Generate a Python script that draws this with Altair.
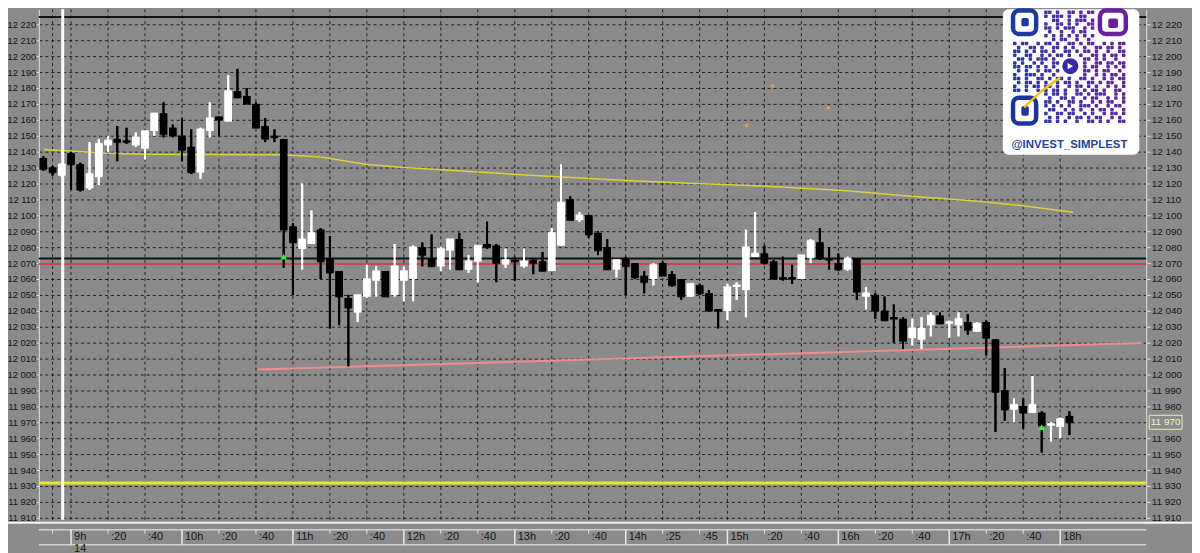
import altair as alt
import pandas as pd

# ---------------- data (5-minute candles, index 0 = 08:45) ----------------
opens = [12136, 12130, 12125, 12139, 12132, 12117, 12124, 12144, 12148, 12147,
         12144, 12142, 12153, 12164, 12155, 12150, 12143, 12127, 12153, 12162,
         12159, 12178, 12175, 12170, 12156, 12150, 12148, 12093, 12079, 12082,
         12091, 12073, 12065, 12048, 12039, 12049, 12059, 12065, 12050, 12059,
         12060, 12080, 12073, 12068, 12078, 12085, 12066, 12071, 12082, 12081,
         12069, 12072, 12068, 12072, 12071, 12065, 12081, 12110, 12097, 12100,
         12089, 12080, 12066, 12073, 12070, 12062, 12060, 12070, 12063, 12060,
         12049, 12056, 12051, 12041, 12040, 12055, 12053, 12074, 12076, 12071,
         12061, 12061, 12060, 12073, 12083, 12073, 12070, 12066, 12073, 12049,
         12050, 12040, 12036, 12035, 12023, 12022, 12031, 12037, 12032, 12031,
         12033, 12027, 12033, 12022, 11990, 11978, 11980, 11976, 11976, 11968,
         11967, 11974]
highs = [12137, 12131, 12133, 12140, 12133, 12146, 12148, 12150, 12156, 12155,
         12152, 12153, 12164, 12171, 12157, 12161, 12154, 12155, 12171, 12162,
         12188, 12192, 12180, 12171, 12161, 12154, 12148, 12095, 12120, 12103,
         12092, 12087, 12065, 12050, 12050, 12069, 12068, 12065, 12082, 12068,
         12081, 12083, 12088, 12080, 12085, 12089, 12075, 12081, 12096, 12082,
         12079, 12074, 12079, 12073, 12077, 12092, 12132, 12112, 12102, 12100,
         12090, 12085, 12072, 12074, 12070, 12065, 12070, 12071, 12065, 12060,
         12057, 12057, 12053, 12041, 12057, 12058, 12091, 12102, 12081, 12072,
         12074, 12069, 12075, 12085, 12092, 12080, 12076, 12074, 12073, 12055,
         12051, 12049, 12044, 12036, 12035, 12036, 12039, 12039, 12034, 12039,
         12038, 12033, 12034, 12022, 12004, 11985, 11985, 11999, 11977, 11970,
         11973, 11977]
lows = [12128, 12125, 12124, 12116, 12115, 12116, 12119, 12140, 12134, 12145,
        12143, 12135, 12150, 12149, 12149, 12134, 12126, 12123, 12149, 12150,
        12159, 12174, 12170, 12155, 12146, 12146, 12067, 12050, 12066, 12082,
        12060, 12029, 12031, 12005, 12033, 12048, 12049, 12049, 12049, 12046,
        12046, 12068, 12068, 12065, 12066, 12066, 12064, 12058, 12079, 12058,
        12067, 12059, 12067, 12063, 12065, 12065, 12081, 12097, 12096, 12086,
        12075, 12066, 12061, 12050, 12060, 12051, 12056, 12062, 12055, 12047,
        12049, 12050, 12040, 12029, 12034, 12047, 12036, 12074, 12069, 12060,
        12059, 12057, 12060, 12070, 12072, 12066, 12065, 12065, 12047, 12041,
        12035, 12034, 12020, 12016, 12018, 12016, 12024, 12032, 12023, 12024,
        12025, 12027, 12012, 11964, 11971, 11970, 11966, 11976, 11951, 11958,
        11960, 11962]
closes = [12129, 12127, 12132, 12132, 12116, 12126, 12145, 12147, 12146, 12146,
          12149, 12153, 12164, 12151, 12150, 12141, 12127, 12154, 12161, 12160,
          12178, 12174, 12170, 12155, 12148, 12149, 12091, 12083, 12085, 12089,
          12071, 12064, 12049, 12042, 12050, 12060, 12065, 12049, 12068, 12065,
          12080, 12075, 12068, 12079, 12085, 12066, 12071, 12081, 12080, 12070,
          12072, 12071, 12071, 12070, 12065, 12089, 12108, 12097, 12100, 12088,
          12078, 12066, 12072, 12068, 12061, 12058, 12069, 12062, 12056, 12049,
          12057, 12051, 12040, 12040, 12055, 12056, 12080, 12076, 12070, 12060,
          12060, 12060, 12075, 12084, 12073, 12072, 12066, 12073, 12052, 12051,
          12040, 12034, 12035, 12021, 12029, 12029, 12037, 12032, 12033, 12035,
          12028, 12032, 12023, 11989, 11978, 11981, 11976, 11981, 11968, 11969,
          11972, 11970]

# moving average (yellow thin line)
ma_idx = [0.05, 7, 11, 18, 26, 30, 35, 39, 47.5, 54.6, 63.5, 70.6, 77.8, 86.6, 93.8, 100.8, 106, 111.4]
ma_val = [12141.4, 12139, 12138.3, 12138.2, 12138, 12136.7, 12132, 12130, 12127, 12124.5,
          12121.7, 12120, 12118.5, 12115.6, 12112, 12109, 12106, 12102]

# rising support line (pink)
tr_idx = [23.2, 118.77]
tr_val = [12003.1, 12019.8]

# horizontal levels
lvl_black = [12224.6, 12072.9]
lvl_red = [12069.4]
lvl_yellow = [11931.9]
day_sep = [2.1]

# markers
dot_idx = [76.1, 78.9, 84.9]
dot_val = [12156.2, 12181.2, 12167.5]
grn_idx = [26, 108]
grn_val = [12074, 11967]

# time axis
tick_idx = [1, 3, 7, 11, 15, 19, 23, 27, 31, 35, 39, 43, 47, 51, 55, 59, 63, 67, 71, 74,
            78, 82, 86, 90, 94, 98, 102, 106, 110]
tick_lab = ["", "9h", ":20", ":40", "10h", ":20", ":40", "11h", ":20", ":40", "12h", ":20",
            ":40", "13h", ":20", ":40", "14h", ":25", ":45", "15h", ":20", ":40", "16h", ":20",
            ":40", "17h", ":20", ":40", "18h"]
hour_idx = [3, 15, 27, 39, 51, 63, 74, 86, 98, 110]
date_idx = [3]
date_lab = ["14"]
y_ticks = list(range(11910, 12231, 10))
last_price = [11970]
y_ticks_right = [v for v in y_ticks if v not in last_price]

# QR badge (decor) in data coordinates
qr_box = dict(x=[103.8], x2=[118.56], y=[12229.375], y2=[12138.1])
finder_out = dict(x=[104.9, 114.3, 104.9], x2=[107.4, 117.1, 107.4],
                  y=[12228.6, 12228.6, 12173.9], y2=[12213.9, 12213.9, 12157.7],
                  c=["#1f3a9e", "#6a1f9e", "#1c3596"])
finder_in = dict(x=[105.8, 115.2, 105.8], x2=[106.6, 116.25, 106.6],
                 y=[12223.9, 12223.6, 12168.7], y2=[12218.7, 12217.7, 12162.5],
                 c=["#1f3a9e", "#6a1f9e", "#1c3596"])
qr_rows = [
    "........##.#..##.#.##........",
    "........#.###.#..##..........",
    "..........##..#.###.#........",
    "........#..##.#.#..##........",
    "........##.#.###..#.#........",
    ".........#..#..#.##..........",
    "........#.#.#.#.#.#.#........",
    "..........#.##..#..#.........",
    "#.##..#.##.#..##.#.##..#.#.##",
    ".#..##.#..##.#.#..#..##.##.#.",
    "##.#.#.##.#..##.#.##.#..#..##",
    "#..##..#.#.##.#..#..##.#.##.#",
    ".##.#.###.#.......##.#.#..#..",
    "#.#..#.#..##......#..##.##.##",
    "##.##.#.#.#.......#.##..#.#.#",
    ".#.#..#.##.#......##.#.##..#.",
    "#..###.#..#.......#..#.#.##.#",
    "##.#..##.#.##.#..##.#..#.#.##",
    ".#.##.#.#..#.##.#..##.#.##..#",
    "#..#.##.##.#..#.##.#.#..#.#.#",
    "##.#..#.#.##.#..#.#.##.#..##.",
    "........#.##.#..##.#.###..#.#",
    ".........#..##.#..#.##..#.#.#",
    "........##.#..##.#..#.#.##..#",
    "........#.#.#.#..###.#..#.##.",
    ".........##..#.#.#..#.##.#..#",
    "........#..##.##..#.#..#.##.#",
    ".........#.#..#.##.#.##..#.#.",
    "........##.#.#..#..##.#.#..##",
]

# ---------------- build ----------------
PADL = 31
W, H = 1113, 513
xs = alt.Scale(domain=[0.053, 118.77], nice=False, zero=False)
ys = alt.Scale(domain=[11908.75, 12229.375], nice=False, zero=False)
FONT = "Liberation Sans, Arial, sans-serif"
BG = "#8b8b8b"
GRID = "#141414"

df = pd.DataFrame(dict(i=list(range(len(opens))), o=opens, h=highs, l=lows, c=closes))
df["d"] = ["up" if c >= o else "dn" for o, c in zip(opens, closes)]
cscale = alt.Scale(domain=["up", "dn"], range=["#ffffff", "#000000"])

lab_expr = "replace(format(datum.value, ','), ',', ' ')"

X = lambda f="i": alt.X(f + ":Q", scale=xs, axis=None)
Y = lambda f="v": alt.Y(f + ":Q", scale=ys, axis=None)

# y axes (left with horizontal grid, right without)
axis_left = alt.Chart(df).mark_rule(strokeWidth=2).encode(
    x=X(),
    y=alt.Y("l:Q", scale=ys, axis=alt.Axis(orient="left", values=y_ticks, grid=True, gridDash=[3, 3],
                                            gridColor=GRID, gridOpacity=0.9, title=None,
                                            labelExpr=lab_expr, tickSize=3, tickColor="#e0e0e0",
                                            domainColor="#e0e0e0", labelFont=FONT, labelFontSize=9.5,
                                            labelColor="#151515", labelPadding=0)),
    y2="h:Q",
    color=alt.Color("d:N", scale=cscale, legend=None),
)
axis_right = alt.Chart(df).mark_bar(size=7.5, orient="vertical").encode(
    x=X(),
    y=alt.Y("o:Q", scale=ys, axis=alt.Axis(orient="right", values=y_ticks_right, grid=False, title=None,
                                            labelExpr=lab_expr, tickSize=4, tickColor="#e0e0e0",
                                            domainColor="#e0e0e0", labelFont=FONT, labelFontSize=10,
                                            labelColor="#151515", labelPadding=1)),
    y2="c:Q",
    color=alt.Color("d:N", scale=cscale, legend=None),
)

vgrid = alt.Chart(pd.DataFrame(dict(i=tick_idx))).mark_rule(
    color=GRID, strokeWidth=1, strokeDash=[3, 3], opacity=0.9).encode(x=X())

wicks = alt.Chart(df).mark_rule(strokeWidth=2).encode(
    x=X(), y=Y("l"), y2="h:Q", color=alt.Color("d:N", scale=cscale, legend=None))
bodies = alt.Chart(df).mark_bar(size=7.5, orient="vertical").encode(
    x=X(), y=Y("o"), y2="c:Q", color=alt.Color("d:N", scale=cscale, legend=None))
ticks_c = alt.Chart(df).mark_tick(orient="horizontal", size=7.5, thickness=2).encode(
    x=X(), y=Y("c"), color=alt.Color("d:N", scale=cscale, legend=None))


def hrule(vals, color, width):
    return alt.Chart(pd.DataFrame(dict(v=vals))).mark_rule(color=color, strokeWidth=width).encode(y=Y())


black_lines = hrule(lvl_black, "#111111", 2)
red_lines = hrule(lvl_red, "#c8484a", 2)
yellow_lines = hrule(lvl_yellow, "#e9e42c", 3)

sep = alt.Chart(pd.DataFrame(dict(i=day_sep))).mark_rule(color="#ffffff", strokeWidth=3).encode(x=X())

ma = alt.Chart(pd.DataFrame(dict(i=ma_idx, v=ma_val))).mark_line(color="#d8d23c", strokeWidth=1.5).encode(
    x=X(), y=Y())
trend = alt.Chart(pd.DataFrame(dict(i=tr_idx, v=tr_val))).mark_line(color="#f08c8c", strokeWidth=2).encode(
    x=X(), y=Y())
dots = alt.Chart(pd.DataFrame(dict(i=dot_idx, v=dot_val))).mark_circle(color="#e0a838", size=12, opacity=1).encode(
    x=X(), y=Y())
greens = alt.Chart(pd.DataFrame(dict(i=grn_idx, v=grn_val))).mark_point(
    shape="triangle-up", filled=True, color="#3cf03c", size=45, opacity=1).encode(x=X(), y=Y())

# last price box on right axis
lp = pd.DataFrame(dict(v=last_price, t=["11 970"]))
lp_box = alt.Chart(lp).transform_calculate(a="datum.v + 4.4", b="datum.v - 4.4").mark_rect(
    fill=BG, stroke="#ececb8", strokeWidth=1).encode(
    x=alt.value(W + 3), x2=alt.value(W + 36), y=Y("a"), y2="b:Q")
lp_txt = alt.Chart(lp).mark_text(align="center", baseline="middle", font=FONT, fontSize=10,
                                 color="#f4f4cc").encode(x=alt.value(W + 19.5), y=Y(), text="t:N")

# QR badge
QX0, QX1, QY0, QY1 = 104.9, 117.1, 12228.6, 12157.7
n = len(qr_rows)
mw, mh = (QX1 - QX0) / n, (QY0 - QY1) / n
cells = [(r, c) for r, row in enumerate(qr_rows) for c, ch in enumerate(row) if ch == "#"]
qdf = pd.DataFrame(dict(
    x=[QX0 + c * mw for r, c in cells], x2=[QX0 + (c + 0.9) * mw for r, c in cells],
    y=[QY0 - r * mh for r, c in cells], y2=[QY0 - (r + 0.9) * mh for r, c in cells],
    k=[c - 0.3 * r for r, c in cells]))
qmods = alt.Chart(qdf).mark_rect(cornerRadius=1).encode(
    x=X("x"), x2="x2:Q", y=Y("y"), y2="y2:Q",
    color=alt.Color("k:Q", scale=alt.Scale(domain=[-8, 28], range=["#1c3aa0", "#6c1c9c"]), legend=None))

qbox = alt.Chart(pd.DataFrame(qr_box)).mark_rect(fill="#ffffff", cornerRadius=6).encode(
    x=X("x"), x2="x2:Q", y=Y("y"), y2="y2:Q")
fout = alt.Chart(pd.DataFrame(finder_out)).mark_rect(filled=False, strokeWidth=4.5, cornerRadius=6).encode(
    x=X("x"), x2="x2:Q", y=Y("y"), y2="y2:Q", stroke=alt.Stroke("c:N", scale=None))
fin = alt.Chart(pd.DataFrame(finder_in)).mark_rect(cornerRadius=2).encode(
    x=X("x"), x2="x2:Q", y=Y("y"), y2="y2:Q", color=alt.Color("c:N", scale=None))
tg = alt.Chart(pd.DataFrame(dict(i=[111.1], v=[12193.7]))).mark_circle(color="#3b2aa6", size=260, opacity=1).encode(
    x=X(), y=Y())
tg_arrow = alt.Chart(pd.DataFrame(dict(i=[111.1], v=[12193.7]))).mark_point(
    shape="triangle-right", filled=True, color="#ffffff", size=40, opacity=1).encode(x=X(), y=Y())
qcurve = alt.Chart(pd.DataFrame(dict(i=[106.1, 108.0, 110.0], v=[12167.8, 12178.0, 12186.5]))).mark_line(
    color="#f0c020", strokeWidth=2.5, interpolate="monotone").encode(x=X(), y=Y())
qtxt = alt.Chart(pd.DataFrame(dict(i=[111.0], v=[12144.4], t=["@INVEST_SIMPLEST"]))).mark_text(
    font=FONT, fontSize=11.5, fontWeight="bold", color="#2a3f8f",
    align="center", baseline="middle").encode(x=X(), y=Y(), text="t:N")

# bottom time strip
tdf = pd.DataFrame(dict(i=tick_idx, t=tick_lab))
hdf = pd.DataFrame(dict(i=hour_idx))
one = pd.DataFrame(dict(a=[0]))
sep_line = alt.Chart(one).mark_rule(color="#f4f4f4", strokeWidth=2).encode(
    x=alt.value(-PADL), x2=alt.value(W + 48), y=alt.value(H + 3))
row_top = alt.Chart(one).mark_rule(color="#cfcfcf", strokeWidth=1.5).encode(
    x=alt.value(0), x2=alt.value(W), y=alt.value(H + 10))
row_bot = alt.Chart(one).mark_rule(color="#cfcfcf", strokeWidth=1.5).encode(
    x=alt.value(0), x2=alt.value(W), y=alt.value(H + 25))
minor_t = alt.Chart(tdf).mark_rule(color="#e8e8e8", strokeWidth=1).encode(
    x=X(), y=alt.value(H + 10), y2=alt.value(H + 14))
hour_t = alt.Chart(hdf).mark_rule(color="#e8e8e8", strokeWidth=1.5).encode(
    x=X(), y=alt.value(H + 10), y2=alt.value(H + 25))
tlab = alt.Chart(tdf).mark_text(align="left", baseline="middle", dx=3, font=FONT, fontSize=11,
                                color="#151515").encode(x=X(), y=alt.value(H + 17), text="t:N")
dlab = alt.Chart(pd.DataFrame(dict(i=date_idx, t=date_lab))).mark_text(
    align="left", baseline="middle", dx=3, font=FONT, fontSize=11, color="#151515").encode(
    x=X(), y=alt.value(H + 29), text="t:N")

chart = alt.layer(
    axis_left, axis_right, vgrid,
    black_lines, red_lines, yellow_lines, ma, trend, sep,
    wicks, bodies, ticks_c, dots, greens,
    qbox, qmods, fout, fin, tg, tg_arrow, qcurve, qtxt,
    lp_box, lp_txt,
    sep_line, row_top, row_bot, minor_t, hour_t, tlab, dlab,
).resolve_axis(y="independent").properties(
    width=W, height=H,
    autosize=alt.AutoSizeParams(type="none"),
    padding={"left": PADL, "top": 0, "right": 46, "bottom": 32},
    background=BG,
).configure_view(stroke=None)

chart.save("out.html", embed_options={"renderer": "svg", "actions": False})
